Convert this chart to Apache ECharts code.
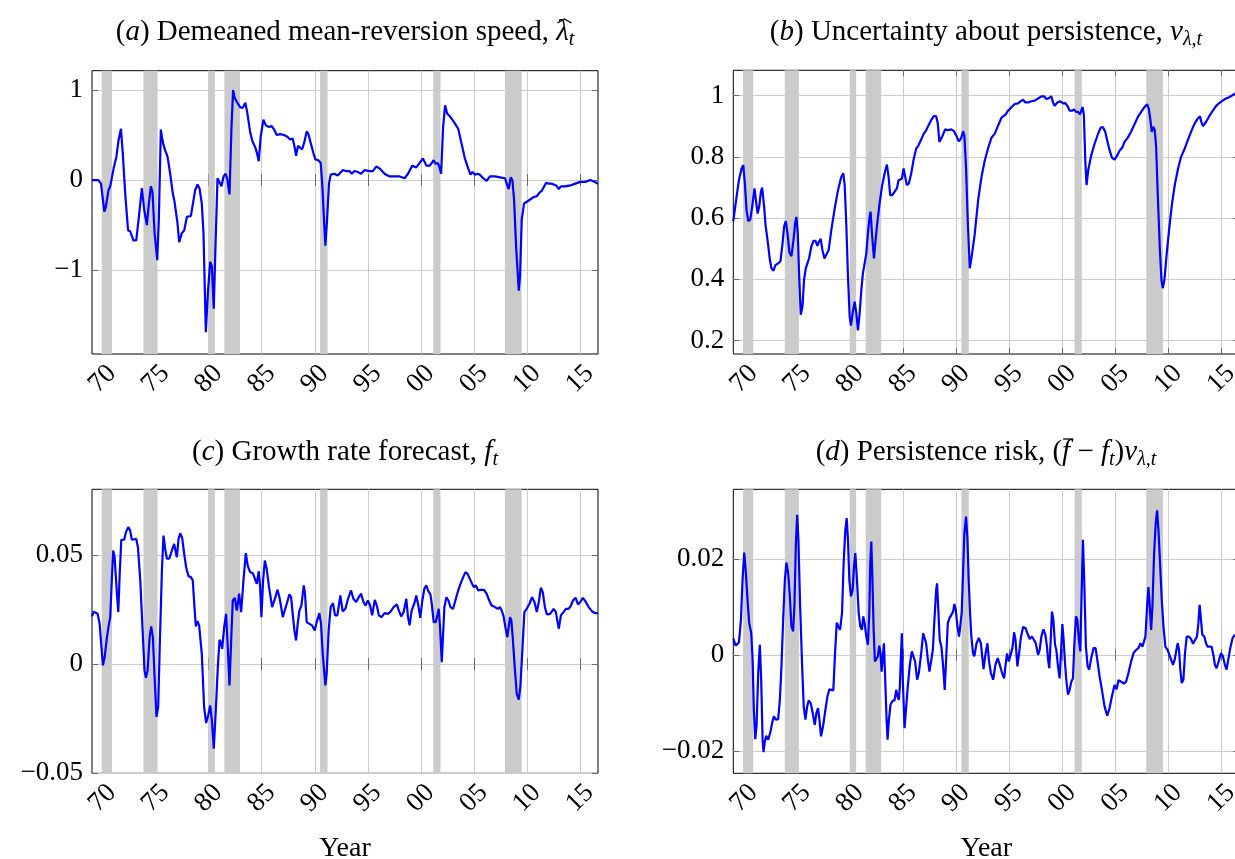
<!DOCTYPE html>
<html><head><meta charset="utf-8">
<script src="https://cdn.jsdelivr.net/npm/echarts@6/dist/echarts.min.js"></script>
<style>html,body{margin:0;padding:0;background:#fff}#chart{width:1235px;height:859px}</style>
</head><body><div id="chart"></div>
<script>
// ---------------- data ----------------
const xTicks = [1970, 1975, 1980, 1985, 1990, 1995, 2000, 2005, 2010, 2015];
const xTickLabels = ['70', '75', '80', '85', '90', '95', '00', '05', '10', '15'];

const recessions = [[1969.92, 1970.88], [1973.85, 1975.18], [1979.98, 1980.58], [1981.48, 1982.95],
  [1990.5, 1991.2], [2001.17, 2001.85], [2007.93, 2009.5]];

const aYTicks = [-1, 0, 1];
const aYLabels = ['\u22121', '0', '1'];
const bYTicks = [0.2, 0.4, 0.6, 0.8, 1];
const bYLabels = ['0.2', '0.4', '0.6', '0.8', '1'];
const cYTicks = [-0.05, 0, 0.05];
const cYLabels = ['\u22120.05', '0', '0.05'];
const dYTicks = [-0.02, 0, 0.02];
const dYLabels = ['\u22120.02', '0', '0.02'];

// (a) demeaned mean-reversion speed
const aSeries = [[1969.0,0.0],[1969.6,0.0],[1969.85,-0.04],[1970.16,-0.35],[1970.3,-0.3],[1970.56,-0.11],[1970.72,-0.07],
[1971.04,0.13],[1971.3,0.26],[1971.5,0.44],[1971.73,0.57],[1971.9,0.3],[1972.13,-0.15],[1972.4,-0.56],[1972.6,-0.57],
[1972.7,-0.59],[1972.9,-0.67],[1973.17,-0.67],[1973.42,-0.41],[1973.7,-0.09],[1973.92,-0.33],[1974.17,-0.5],[1974.36,-0.26],
[1974.55,-0.07],[1974.7,-0.13],[1974.9,-0.59],[1975.15,-0.89],[1975.3,-0.44],[1975.49,0.56],[1975.59,0.48],[1975.74,0.39],
[1975.9,0.33],[1976.12,0.26],[1976.37,0.07],[1976.62,-0.15],[1976.78,-0.24],[1976.94,-0.25],[1977.06,-0.48],[1977.22,-0.69],
[1977.47,-0.59],[1977.69,-0.56],[1977.94,-0.41],[1978.1,-0.40],[1978.32,-0.40],[1978.5,-0.39],[1978.73,-0.11],[1978.95,-0.05],
[1979.13,-0.09],[1979.35,-0.26],[1979.51,-0.59],[1979.73,-1.69],[1979.92,-1.26],[1980.14,-0.91],[1980.3,-0.96],[1980.48,-1.43],
[1980.64,-0.74],[1980.83,0.02],[1981.0,0.04],[1981.2,-0.07],[1981.4,0.04],[1981.6,0.07],[1981.77,0.0],[1981.96,-0.16],
[1982.15,0.59],[1982.3,1.0],[1982.46,0.91],[1982.65,0.87],[1982.96,0.81],[1983.2,0.80],[1983.46,0.86],[1983.65,0.74],
[1983.9,0.54],[1984.12,0.43],[1984.37,0.37],[1984.53,0.31],[1984.72,0.21],[1984.9,0.48],[1985.16,0.67],[1985.38,0.61],
[1985.63,0.59],[1985.95,0.6],[1986.17,0.56],[1986.42,0.5],[1986.73,0.51],[1987.1,0.5],[1987.42,0.48],[1987.67,0.45],
[1987.92,0.46],[1988.08,0.38],[1988.24,0.27],[1988.42,0.38],[1988.6,0.39],[1988.8,0.34],[1988.99,0.41],[1989.24,0.54],
[1989.4,0.51],[1989.62,0.41],[1989.87,0.3],[1990.06,0.23],[1990.34,0.22],[1990.56,0.19],[1990.72,-0.07],[1990.87,-0.44],
[1991.0,-0.73],[1991.16,-0.44],[1991.34,-0.04],[1991.5,0.06],[1991.85,0.07],[1992.16,0.05],[1992.63,0.11],[1992.95,0.10],
[1993.27,0.10],[1993.49,0.07],[1993.74,0.1],[1994.05,0.09],[1994.37,0.07],[1994.68,0.11],[1995.16,0.10],[1995.47,0.10],
[1995.79,0.15],[1996.1,0.13],[1996.58,0.07],[1997.05,0.04],[1997.52,0.04],[1998.0,0.04],[1998.47,0.02],[1998.79,0.07],
[1999.2,0.16],[1999.57,0.14],[1999.89,0.19],[2000.2,0.24],[2000.52,0.16],[2000.84,0.16],[2001.21,0.22],[2001.4,0.18],
[2001.59,0.19],[2001.72,0.16],[2001.91,0.07],[2002.1,0.59],[2002.29,0.83],[2002.48,0.74],[2002.79,0.70],[2003.1,0.65],
[2003.52,0.57],[2003.83,0.41],[2004.15,0.24],[2004.46,0.13],[2004.68,0.06],[2004.87,0.09],[2005.1,0.06],[2005.32,0.07],
[2005.57,0.06],[2005.88,0.02],[2006.2,-0.01],[2006.51,0.04],[2006.99,0.04],[2007.46,0.03],[2007.93,0.02],[2008.15,-0.06],
[2008.28,-0.10],[2008.47,0.03],[2008.63,0.0],[2008.79,-0.22],[2008.98,-0.74],[2009.23,-1.23],[2009.35,-1.07],[2009.51,-0.44],
[2009.73,-0.26],[2010.14,-0.23],[2010.62,-0.19],[2010.93,-0.18],[2011.18,-0.14],[2011.4,-0.12],[2011.56,-0.11],[2011.81,-0.03],
[2012.03,-0.04],[2012.35,-0.04],[2012.76,-0.06],[2013.01,-0.10],[2013.2,-0.07],[2013.61,-0.07],[2014.09,-0.06],[2014.56,-0.04],
[2015.03,-0.02],[2015.5,-0.02],[2015.98,0.0],[2016.36,-0.02],[2016.7,-0.04]];

// (b) uncertainty about persistence
const bSeries = [[1969.0,0.59],[1969.06,0.593],[1969.31,0.670],[1969.53,0.724],[1969.78,0.762],[1969.94,0.773],[1970.09,0.713],
[1970.25,0.626],[1970.41,0.590],[1970.6,0.596],[1970.78,0.637],[1971.0,0.697],[1971.13,0.659],[1971.29,0.615],[1971.44,0.637],
[1971.6,0.686],[1971.72,0.700],[1971.91,0.637],[1972.04,0.577],[1972.23,0.528],[1972.45,0.463],[1972.6,0.436],[1972.79,0.428],
[1972.98,0.447],[1973.23,0.452],[1973.45,0.460],[1973.64,0.517],[1973.79,0.572],[1973.95,0.590],[1974.11,0.550],[1974.29,0.487],
[1974.48,0.476],[1974.67,0.528],[1974.83,0.583],[1974.95,0.604],[1975.08,0.550],[1975.2,0.420],[1975.36,0.284],[1975.52,0.311],
[1975.67,0.398],[1975.83,0.436],[1975.99,0.439],[1976.14,0.468],[1976.36,0.507],[1976.55,0.526],[1976.74,0.526],[1976.93,0.509],
[1977.08,0.523],[1977.24,0.532],[1977.4,0.496],[1977.59,0.468],[1977.77,0.465],[1977.99,0.496],[1978.24,0.561],[1978.56,0.632],
[1978.87,0.691],[1979.18,0.735],[1979.37,0.746],[1979.5,0.708],[1979.66,0.572],[1979.81,0.409],[1979.97,0.278],[1980.09,0.249],
[1980.25,0.289],[1980.44,0.327],[1980.6,0.289],[1980.75,0.233],[1980.91,0.289],[1981.07,0.365],[1981.22,0.420],[1981.38,0.452],
[1981.54,0.485],[1981.69,0.550],[1981.85,0.604],[1981.94,0.621],[1982.07,0.550],[1982.26,0.468],[1982.41,0.528],[1982.57,0.583],
[1982.79,0.648],[1983.01,0.702],[1983.26,0.746],[1983.48,0.775],[1983.64,0.735],[1983.79,0.675],[1983.98,0.675],[1984.2,0.686],
[1984.42,0.697],[1984.58,0.724],[1984.73,0.718],[1984.89,0.729],[1985.05,0.762],[1985.2,0.735],[1985.36,0.708],[1985.55,0.713],
[1985.77,0.746],[1986.02,0.795],[1986.24,0.827],[1986.46,0.838],[1986.71,0.857],[1986.96,0.876],[1987.18,0.887],[1987.4,0.903],
[1987.65,0.920],[1987.9,0.933],[1988.12,0.933],[1988.28,0.909],[1988.43,0.849],[1988.59,0.843],[1988.75,0.871],[1988.97,0.890],
[1989.22,0.887],[1989.53,0.890],[1989.78,0.885],[1990.0,0.871],[1990.25,0.851],[1990.47,0.860],[1990.66,0.884],[1990.78,0.871],
[1990.94,0.767],[1991.1,0.593],[1991.29,0.436],[1991.47,0.474],[1991.75,0.545],[1992.08,0.659],[1992.4,0.735],[1992.71,0.789],
[1993.03,0.830],[1993.34,0.863],[1993.65,0.876],[1993.97,0.903],[1994.28,0.928],[1994.66,0.938],[1994.91,0.951],[1995.22,0.962],
[1995.53,0.973],[1995.85,0.975],[1996.1,0.982],[1996.32,0.987],[1996.54,0.978],[1996.79,0.978],[1997.1,0.982],[1997.41,0.984],
[1997.73,0.991],[1998.04,0.998],[1998.29,0.998],[1998.51,0.989],[1998.73,0.992],[1998.98,0.998],[1999.14,0.978],[1999.29,0.967],
[1999.55,0.978],[1999.8,0.982],[2000.08,0.975],[2000.3,0.976],[2000.49,0.967],[2000.71,0.951],[2000.92,0.951],[2001.11,0.955],
[2001.3,0.947],[2001.49,0.947],[2001.68,0.939],[2001.8,0.941],[2001.93,0.963],[2002.05,0.936],[2002.18,0.789],[2002.3,0.708],
[2002.46,0.757],[2002.74,0.805],[2003.06,0.843],[2003.37,0.874],[2003.62,0.895],[2003.84,0.898],[2004.06,0.882],[2004.25,0.854],
[2004.47,0.822],[2004.69,0.798],[2004.94,0.791],[2005.19,0.805],[2005.41,0.820],[2005.66,0.830],[2005.88,0.849],[2006.19,0.863],
[2006.5,0.882],[2006.82,0.907],[2007.13,0.930],[2007.45,0.947],[2007.76,0.963],[2008.01,0.972],[2008.17,0.958],[2008.32,0.920],
[2008.45,0.882],[2008.6,0.898],[2008.73,0.887],[2008.86,0.833],[2009.01,0.680],[2009.2,0.507],[2009.36,0.398],[2009.48,0.371],
[2009.64,0.398],[2009.86,0.485],[2010.11,0.572],[2010.36,0.648],[2010.64,0.713],[2010.96,0.767],[2011.21,0.800],[2011.52,0.824],
[2011.84,0.854],[2012.15,0.882],[2012.46,0.907],[2012.77,0.925],[2013.0,0.933],[2013.12,0.914],[2013.28,0.901],[2013.56,0.914],
[2013.87,0.933],[2014.18,0.950],[2014.5,0.966],[2014.81,0.976],[2015.13,0.984],[2015.44,0.991],[2015.75,0.995],[2016.07,1.002],
[2016.4,1.008],[2016.7,1.012]];

// (c) growth rate forecast
const cSeries = [[1969.0,0.0218],[1969.15,0.024],[1969.3,0.0245],[1969.53,0.023],[1969.72,0.0184],[1969.84,0.0108],[1970.03,-0.0006],
[1970.19,0.003],[1970.41,0.0123],[1970.6,0.0184],[1970.72,0.0215],[1970.88,0.0398],[1971.0,0.052],[1971.13,0.049],[1971.35,0.0322],
[1971.48,0.0238],[1971.6,0.0398],[1971.76,0.0569],[1971.91,0.0566],[1972.04,0.0569],[1972.2,0.0604],[1972.42,0.0627],[1972.6,0.0611],
[1972.76,0.0569],[1972.92,0.0578],[1973.17,0.0573],[1973.33,0.0535],[1973.55,0.0383],[1973.8,0.0123],[1973.95,-0.0029],[1974.08,-0.0063],
[1974.24,-0.0029],[1974.43,0.0123],[1974.58,0.0172],[1974.74,0.0123],[1974.9,-0.0059],[1975.08,-0.0242],[1975.24,-0.0197],[1975.4,0.0108],
[1975.59,0.0428],[1975.74,0.0588],[1975.9,0.0527],[1976.06,0.0482],[1976.28,0.0482],[1976.53,0.052],[1976.75,0.055],[1976.9,0.0512],
[1977.0,0.0489],[1977.16,0.0573],[1977.31,0.0599],[1977.5,0.0578],[1977.69,0.0505],[1977.88,0.0441],[1978.1,0.0402],[1978.32,0.0398],
[1978.5,0.0383],[1978.66,0.0261],[1978.79,0.0172],[1978.95,0.0197],[1979.1,0.0177],[1979.35,0.0047],[1979.57,-0.0197],[1979.76,-0.027],
[1979.95,-0.0235],[1980.14,-0.0189],[1980.3,-0.0258],[1980.48,-0.0387],[1980.67,-0.0212],[1980.86,-0.0014],[1981.02,0.0111],[1981.14,0.0101],
[1981.27,0.007],[1981.46,0.0169],[1981.64,0.023],[1981.8,0.0078],[1981.96,-0.0098],[1982.12,0.0108],[1982.27,0.0291],[1982.46,0.0303],
[1982.65,0.0245],[1982.87,0.0322],[1983.06,0.0238],[1983.28,0.0383],[1983.5,0.0508],[1983.68,0.0451],[1983.9,0.0421],[1984.16,0.0416],
[1984.41,0.0383],[1984.53,0.0367],[1984.72,0.0425],[1984.85,0.0352],[1984.97,0.0215],[1985.13,0.0383],[1985.29,0.0474],[1985.47,0.0436],
[1985.69,0.0352],[1985.98,0.0261],[1986.16,0.0268],[1986.29,0.0306],[1986.48,0.034],[1986.67,0.0306],[1986.86,0.0253],[1986.98,0.0215],
[1987.14,0.0223],[1987.36,0.0276],[1987.61,0.0319],[1987.77,0.0306],[1987.92,0.023],[1988.08,0.0154],[1988.24,0.0108],[1988.39,0.0184],
[1988.55,0.0245],[1988.74,0.0268],[1988.96,0.036],[1989.08,0.0322],[1989.24,0.0192],[1989.5,0.0184],[1989.75,0.0177],[1990.0,0.0154],
[1990.18,0.0192],[1990.43,0.0233],[1990.59,0.0184],[1990.75,0.0047],[1991.0,-0.0098],[1991.12,-0.0044],[1991.31,0.0154],[1991.5,0.0261],
[1991.72,0.0279],[1991.91,0.0223],[1992.13,0.0223],[1992.41,0.0314],[1992.63,0.0241],[1992.89,0.0253],[1993.14,0.0299],[1993.42,0.0337],
[1993.64,0.0299],[1993.9,0.0284],[1994.15,0.0306],[1994.37,0.0322],[1994.59,0.0284],[1994.78,0.0268],[1995.0,0.0291],[1995.22,0.0268],
[1995.41,0.0223],[1995.66,0.0294],[1995.85,0.0268],[1996.04,0.0223],[1996.29,0.0215],[1996.58,0.0233],[1996.89,0.023],[1997.11,0.0238],
[1997.43,0.0261],[1997.74,0.0273],[1997.93,0.0245],[1998.15,0.0218],[1998.38,0.0238],[1998.63,0.0299],[1998.79,0.0215],[1998.94,0.0177],
[1999.13,0.0245],[1999.38,0.0276],[1999.57,0.0314],[1999.76,0.0268],[1999.95,0.0212],[2000.14,0.0291],[2000.33,0.0345],[2000.52,0.036],
[2000.68,0.0337],[2000.9,0.0319],[2001.03,0.0276],[2001.21,0.0192],[2001.4,0.0192],[2001.56,0.0223],[2001.69,0.0253],[2001.81,0.0169],
[2001.97,0.0009],[2002.1,0.0139],[2002.22,0.0261],[2002.41,0.0306],[2002.6,0.0291],[2002.79,0.0261],[2003.04,0.0253],[2003.3,0.0299],
[2003.52,0.0337],[2003.74,0.0367],[2003.99,0.0398],[2004.21,0.0421],[2004.4,0.0413],[2004.62,0.039],[2004.84,0.0367],[2005.0,0.0352],
[2005.19,0.036],[2005.41,0.0337],[2005.63,0.034],[2005.95,0.034],[2006.2,0.0322],[2006.45,0.0291],[2006.67,0.0268],[2006.99,0.0261],
[2007.24,0.0253],[2007.46,0.0261],[2007.62,0.0245],[2007.78,0.0223],[2007.97,0.0169],[2008.15,0.0123],[2008.28,0.0169],[2008.41,0.0215],
[2008.53,0.02],[2008.66,0.0123],[2008.85,-0.0014],[2009.04,-0.0136],[2009.23,-0.0163],[2009.38,-0.0105],[2009.57,0.0063],[2009.76,0.0238],
[2009.98,0.0253],[2010.24,0.0276],[2010.49,0.0306],[2010.71,0.0284],[2010.93,0.0238],[2011.12,0.0284],[2011.31,0.0349],[2011.5,0.0329],
[2011.69,0.0261],[2011.88,0.0227],[2012.19,0.023],[2012.51,0.0253],[2012.73,0.0238],[2012.89,0.0192],[2013.01,0.0162],[2013.2,0.0223],
[2013.45,0.0238],[2013.68,0.0253],[2013.93,0.0253],[2014.15,0.0268],[2014.34,0.0291],[2014.59,0.0303],[2014.81,0.0273],[2015.03,0.0284],
[2015.28,0.0303],[2015.5,0.0288],[2015.82,0.0261],[2016.14,0.0241],[2016.45,0.0233],[2016.7,0.0233]];

// (d) persistence risk
const dSeries = [[1969.0,0.0034],[1969.06,0.0031],[1969.22,0.0019],[1969.37,0.0017],[1969.53,0.0026],[1969.72,0.0073],[1969.87,0.0156],
[1970.03,0.0213],[1970.19,0.017],[1970.34,0.0115],[1970.5,0.0066],[1970.69,0.0045],[1970.82,-0.001],[1970.94,-0.0115],[1971.07,-0.0176],
[1971.19,-0.0149],[1971.35,-0.0038],[1971.5,0.0021],[1971.63,-0.0052],[1971.76,-0.0177],[1971.85,-0.0203],[1971.97,-0.0181],[1972.1,-0.0169],
[1972.29,-0.0177],[1972.51,-0.016],[1972.66,-0.0142],[1972.82,-0.0128],[1973.01,-0.0135],[1973.23,-0.0134],[1973.39,-0.0094],[1973.54,-0.0024],
[1973.7,0.0073],[1973.86,0.0156],[1974.01,0.0192],[1974.17,0.017],[1974.33,0.0122],[1974.48,0.0059],[1974.64,0.0049],[1974.76,0.0101],
[1974.89,0.0226],[1975.02,0.0292],[1975.14,0.024],[1975.3,0.0101],[1975.49,-0.0024],[1975.64,-0.0108],[1975.8,-0.0135],[1975.96,-0.0108],
[1976.11,-0.0095],[1976.3,-0.0101],[1976.49,-0.0122],[1976.68,-0.0146],[1976.83,-0.0122],[1976.99,-0.0111],[1977.12,-0.0135],[1977.27,-0.017],
[1977.46,-0.0149],[1977.68,-0.0115],[1977.87,-0.0087],[1978.06,-0.0072],[1978.24,-0.0069],[1978.43,-0.0074],[1978.59,0.0003],[1978.75,0.0067],
[1978.9,0.0059],[1979.06,0.0052],[1979.25,0.0087],[1979.4,0.0191],[1979.56,0.026],[1979.69,0.0285],[1979.81,0.024],[1979.94,0.0156],
[1980.09,0.0122],[1980.25,0.0135],[1980.38,0.0184],[1980.5,0.0212],[1980.66,0.0156],[1980.82,0.0087],[1980.97,0.0059],[1981.13,0.0052],
[1981.25,0.008],[1981.38,0.0066],[1981.54,0.0038],[1981.69,0.0021],[1981.82,0.0087],[1981.91,0.0191],[1982.01,0.0236],[1982.1,0.017],
[1982.23,0.0052],[1982.35,-0.0014],[1982.51,-0.0017],[1982.63,-0.0003],[1982.76,0.0019],[1982.88,0.0003],[1982.98,-0.0035],[1983.07,-0.001],
[1983.2,0.0024],[1983.32,-0.0052],[1983.45,-0.0135],[1983.54,-0.0177],[1983.67,-0.0135],[1983.82,-0.0104],[1984.01,-0.0096],[1984.2,-0.0095],
[1984.36,-0.0073],[1984.48,-0.0087],[1984.61,-0.0094],[1984.7,-0.0066],[1984.8,-0.0003],[1984.89,0.0045],[1984.98,-0.0052],[1985.14,-0.0153],
[1985.3,-0.0108],[1985.45,-0.0066],[1985.64,-0.0021],[1985.83,0.0007],[1985.99,0.001],[1986.14,-0.0014],[1986.33,-0.0052],[1986.49,-0.0038],
[1986.71,0.0003],[1986.9,0.0045],[1987.02,0.0049],[1987.18,0.0024],[1987.34,-0.001],[1987.49,-0.0035],[1987.65,-0.0038],[1987.81,0.001],
[1987.96,0.0073],[1988.12,0.0135],[1988.21,0.0149],[1988.34,0.0087],[1988.46,0.0031],[1988.62,0.0017],[1988.78,-0.0024],[1988.93,-0.0073],
[1989.09,0.0003],[1989.22,0.0066],[1989.37,0.0076],[1989.53,0.008],[1989.72,0.009],[1989.84,0.0106],[1989.97,0.0094],[1990.13,0.0059],
[1990.28,0.0038],[1990.41,0.0035],[1990.53,0.0087],[1990.66,0.017],[1990.78,0.0253],[1990.94,0.0288],[1991.07,0.0243],[1991.19,0.0156],
[1991.32,0.0087],[1991.44,0.0038],[1991.6,0.0003],[1991.72,-0.0003],[1991.93,0.0024],[1992.15,0.0035],[1992.34,0.0024],[1992.59,-0.003],
[1992.78,0.0003],[1992.96,0.0024],[1993.09,-0.001],[1993.28,-0.0038],[1993.5,-0.0052],[1993.71,-0.0021],[1993.93,-0.0007],[1994.12,-0.0021],
[1994.34,-0.0038],[1994.53,-0.0049],[1994.69,-0.0017],[1994.81,0.0003],[1994.97,-0.0014],[1995.13,-0.001],[1995.31,0.0014],[1995.47,0.0047],
[1995.6,0.0031],[1995.78,-0.0024],[1995.94,0.0003],[1996.1,0.0035],[1996.32,0.0058],[1996.54,0.0056],[1996.72,0.0045],[1996.94,0.0033],
[1997.16,0.0038],[1997.32,0.004],[1997.51,0.0024],[1997.73,0.0],[1997.88,0.001],[1998.04,0.0038],[1998.23,0.0053],[1998.42,0.0042],
[1998.57,0.0017],[1998.67,-0.001],[1998.79,-0.0028],[1998.92,0.0031],[1999.04,0.009],[1999.17,0.0073],[1999.33,0.0021],[1999.45,0.001],
[1999.61,-0.0024],[1999.76,-0.0049],[1999.89,0.0003],[2000.02,0.0064],[2000.14,0.0031],[2000.27,-0.0017],[2000.39,-0.0052],[2000.55,-0.0083],
[2000.71,-0.0073],[2000.86,-0.0056],[2001.02,-0.0049],[2001.14,0.0017],[2001.3,0.008],[2001.43,0.0073],[2001.58,0.0031],[2001.71,0.0007],
[2001.83,0.0122],[2001.96,0.024],[2002.08,0.0156],[2002.24,0.0017],[2002.4,-0.0024],[2002.55,-0.0031],[2002.74,-0.0007],[2002.96,0.0014],
[2003.15,0.0014],[2003.31,-0.001],[2003.53,-0.0045],[2003.75,-0.0073],[2004.0,-0.0108],[2004.25,-0.0127],[2004.47,-0.0111],[2004.69,-0.0087],
[2004.94,-0.0063],[2005.13,-0.0072],[2005.31,-0.0053],[2005.56,-0.0056],[2005.82,-0.006],[2006.03,-0.0056],[2006.25,-0.0038],[2006.5,-0.0014],
[2006.76,0.0005],[2006.97,0.001],[2007.19,0.0014],[2007.38,0.0024],[2007.57,0.0017],[2007.73,0.0014],[2007.85,0.0038],[2008.01,0.0101],
[2008.13,0.0141],[2008.26,0.0101],[2008.39,0.0052],[2008.51,0.0101],[2008.67,0.0212],[2008.82,0.0274],[2008.95,0.0301],[2009.08,0.026],
[2009.23,0.0191],[2009.39,0.0115],[2009.55,0.0059],[2009.73,0.0017],[2009.95,0.001],[2010.11,0.0],[2010.27,-0.001],[2010.45,-0.0021],
[2010.61,-0.001],[2010.77,0.001],[2010.89,0.0024],[2011.02,0.001],[2011.14,-0.0031],[2011.27,-0.0059],[2011.43,-0.0052],[2011.58,0.0003],
[2011.74,0.0038],[2011.93,0.0038],[2012.15,0.0033],[2012.34,0.0023],[2012.52,0.0019],[2012.71,0.0038],[2012.84,0.0066],[2012.96,0.0104],
[2013.09,0.0073],[2013.21,0.0042],[2013.4,0.0038],[2013.56,0.0024],[2013.71,0.0017],[2013.87,0.0021],[2014.09,0.0017],[2014.28,-0.0003],
[2014.4,-0.0021],[2014.56,-0.0028],[2014.75,-0.0014],[2014.97,0.0003],[2015.16,-0.0003],[2015.34,-0.0021],[2015.5,-0.0031],[2015.66,-0.001],
[2015.85,0.0014],[2016.07,0.0035],[2016.22,0.004],[2016.5,0.0042],[2016.7,0.004]];

// ---------------- chart ----------------
const FONT = 'Liberation Serif';
const FS = 27;      // tick labels
const FT = 29;      // titles
const FSUB = 20;    // subscripts
const X_MIN = 1969.0, X_MAX = 2016.7;

const panels = [
  {left: 92, top: 70.7, width: 506, height: 283.3, yMin: -1.933, yMax: 1.215, ticks: aYTicks, labels: aYLabels, data: aSeries, name: ''},
  {left: 733.3, top: 70.3, width: 506, height: 283.7, yMin: 0.156, yMax: 1.083, ticks: bYTicks, labels: bYLabels, data: bSeries, name: ''},
  {left: 92, top: 489.3, width: 506, height: 284, yMin: -0.05, yMax: 0.08, ticks: cYTicks, labels: cYLabels, data: cSeries, name: 'Year'},
  {left: 733.3, top: 489.3, width: 506, height: 284, yMin: -0.0247, yMax: 0.0345, ticks: dYTicks, labels: dYLabels, data: dSeries, name: 'Year'}
];

function lookup(ticks, labels, v) {
  for (let k = 0; k < ticks.length; k++) if (Math.abs(ticks[k] - v) < 1e-9) return labels[k];
  return '';
}

const tickStyle = {color: '#6a6a6a', width: 1};
const gridLine = {show: true, lineStyle: {color: '#cccccc', width: 1, type: 'solid'}};
const grids = [], xAxes = [], yAxes = [], series = [];

panels.forEach((p, i) => {
  grids.push({left: p.left, top: p.top, width: p.width, height: p.height, show: true,
    borderColor: '#000', borderWidth: 1, backgroundColor: 'transparent', containLabel: false, outerBoundsMode: 'none'});
  xAxes.push({gridIndex: i, type: 'value', position: 'bottom', min: X_MIN, max: X_MAX,
    axisLine: {show: false},
    axisTick: {show: true, inside: true, length: 6, customValues: xTicks, lineStyle: tickStyle},
    axisLabel: {show: true, customValues: xTicks, rotate: 45, align: 'center', verticalAlign: 'middle', margin: 25,
      fontFamily: FONT, fontSize: FS, color: '#000', formatter: v => lookup(xTicks, xTickLabels, v)},
    splitLine: gridLine,
    name: p.name, nameLocation: 'middle', nameGap: 61,
    nameTextStyle: {fontFamily: FONT, fontSize: 28, color: '#000'}});
  xAxes.push({gridIndex: i, type: 'value', position: 'top', min: X_MIN, max: X_MAX,
    axisLine: {show: false},
    axisTick: {show: true, inside: true, length: 6, customValues: xTicks, lineStyle: tickStyle},
    axisLabel: {show: false}, splitLine: {show: false}});
  yAxes.push({gridIndex: i, type: 'value', position: 'left', min: p.yMin, max: p.yMax,
    axisLine: {show: false},
    axisTick: {show: true, inside: true, length: 6, customValues: p.ticks, lineStyle: tickStyle},
    axisLabel: {show: true, customValues: p.ticks, margin: 9, fontFamily: FONT, fontSize: FS, color: '#000',
      formatter: v => lookup(p.ticks, p.labels, v)},
    splitLine: gridLine});
  yAxes.push({gridIndex: i, type: 'value', position: 'right', min: p.yMin, max: p.yMax,
    axisLine: {show: false},
    axisTick: {show: true, inside: true, length: 6, customValues: p.ticks, lineStyle: tickStyle},
    axisLabel: {show: false}, splitLine: {show: false}});
  series.push({type: 'line', xAxisIndex: 2 * i, yAxisIndex: 2 * i, data: [], z: 1, silent: true,
    markArea: {silent: true, itemStyle: {color: '#cbcbcb', borderWidth: 0},
      data: recessions.map(r => [{xAxis: r[0]}, {xAxis: r[1]}])}});
  series.push({type: 'line', xAxisIndex: 2 * i, yAxisIndex: 2 * i, data: p.data, z: 3,
    showSymbol: false, symbol: 'none', smooth: false, clip: true,
    lineStyle: {color: '#0000ff', width: 2.2}});
});

// ---- titles (rich text) ----
const richStyles = {
  n: {fontFamily: FONT, fontSize: FT, lineHeight: 36},
  i: {fontFamily: FONT, fontSize: FT, fontStyle: 'italic', lineHeight: 36},
  sub: {fontFamily: FONT, fontSize: FSUB, fontStyle: 'italic', lineHeight: 20, verticalAlign: 'bottom'}
};
const fontOf = {
  n: FT + 'px "' + FONT + '"',
  i: 'italic ' + FT + 'px "' + FONT + '"',
  sub: 'italic ' + FSUB + 'px "' + FONT + '"'
};
const measureCtx = document.createElement('canvas').getContext('2d');
function tokWidth(tok) { measureCtx.font = fontOf[tok[0]]; return measureCtx.measureText(tok[1]).width; }

// tokens: [style, text, hatFlag]
const titleTokens = [
  [['n', '('], ['i', 'a'], ['n', ') Demeaned mean-reversion speed, '], ['i', '\u03bb', 'hat'], ['sub', 't']],
  [['n', '('], ['i', 'b'], ['n', ') Uncertainty about persistence, '], ['i', '\u03bd'], ['sub', '\u03bb,t']],
  [['n', '('], ['i', 'c'], ['n', ') Growth rate forecast, '], ['i', 'f'], ['sub', 't']],
  [['n', '('], ['i', 'd'], ['n', ') Persistence risk, ('], ['i', 'f', 'bar'], ['n', ' \u2212 '], ['i', 'f'], ['sub', 't'], ['n', ')'], ['i', '\u03bd'], ['sub', '\u03bb,t']]
];
const titlePos = [[345, 32], [986, 32], [345, 452], [986, 452]];

const graphics = [];
titleTokens.forEach((toks, k) => {
  const cx = titlePos[k][0], cy = titlePos[k][1];
  const text = toks.map(t => '{' + t[0] + '|' + t[1] + '}').join('');
  graphics.push({type: 'text', x: cx, y: cy, silent: true,
    style: {text: text, rich: richStyles, fontFamily: FONT, fontSize: FT, fill: '#000',
      align: 'center', verticalAlign: 'middle', textAlign: 'center', textVerticalAlign: 'middle'}});
  const total = toks.reduce((s, t) => s + tokWidth(t), 0);
  let xPos = cx - total / 2;
  toks.forEach(t => {
    const w = tokWidth(t);
    if (t[2] === 'hat') {
      const hx = xPos + w / 2 + 2, hy = cy - 13;
      graphics.push({type: 'polyline', silent: true,
        shape: {points: [[hx - 7, hy + 4], [hx, hy], [hx + 7, hy + 4]]},
        style: {stroke: '#000', lineWidth: 1.3, fill: null}});
    } else if (t[2] === 'bar') {
      const bx = xPos + w / 2 + 2, by = cy - 13;
      graphics.push({type: 'line', silent: true,
        shape: {x1: bx - 5, y1: by, x2: bx + 5, y2: by},
        style: {stroke: '#000', lineWidth: 1.3}});
    }
    xPos += w;
  });
});

const chart = echarts.init(document.getElementById('chart'), null, {renderer: 'canvas'});
chart.setOption({
  animation: false,
  backgroundColor: '#fff',
  textStyle: {fontFamily: FONT},
  grid: grids, xAxis: xAxes, yAxis: yAxes, series: series,
  graphic: graphics
});
</script></body></html>
